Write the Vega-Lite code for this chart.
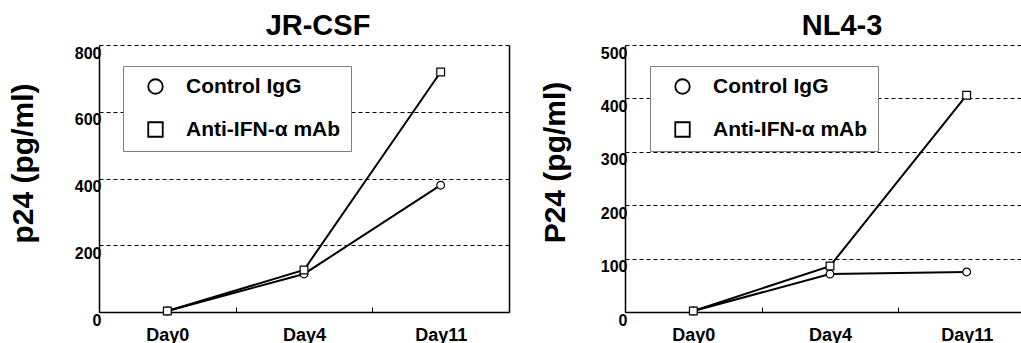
{
  "$schema": "https://vega.github.io/schema/vega-lite/v6.json",
  "padding": {"left": 7, "top": 12, "right": 0, "bottom": 0},
  "background": "white",
  "spacing": 29,
  "config": {
    "font": "Liberation Sans",
    "view": {"stroke": null},
    "axis": {
      "labelFont": "Liberation Sans",
      "labelFontWeight": "bold",
      "labelColor": "black",
      "titleFont": "Liberation Sans",
      "titleColor": "black",
      "titleFontWeight": "bold",
      "domainColor": "black",
      "tickColor": "black"
    },
    "title": {"font": "Liberation Sans", "fontWeight": "bold", "fontSize": 29, "color": "black", "offset": 0},
    "legend": {
      "orient": "none",
      "legendY": 21,
      "padding": 10,
      "strokeColor": "#808080",
      "fillColor": "white",
      "labelFont": "Liberation Sans",
      "labelFontSize": 21,
      "labelFontWeight": "bold",
      "labelColor": "black",
      "rowPadding": 20
    }
  },
  "datasets": {
    "jr": [
      {"day": "Day0", "group": "Control IgG", "p24": 3},
      {"day": "Day4", "group": "Control IgG", "p24": 114},
      {"day": "Day11", "group": "Control IgG", "p24": 380},
      {"day": "Day0", "group": "Anti-IFN-α mAb", "p24": 3},
      {"day": "Day4", "group": "Anti-IFN-α mAb", "p24": 126},
      {"day": "Day11", "group": "Anti-IFN-α mAb", "p24": 719}
    ],
    "nl": [
      {"day": "Day0", "group": "Control IgG", "p24": 2},
      {"day": "Day4", "group": "Control IgG", "p24": 71},
      {"day": "Day11", "group": "Control IgG", "p24": 75},
      {"day": "Day0", "group": "Anti-IFN-α mAb", "p24": 2},
      {"day": "Day4", "group": "Anti-IFN-α mAb", "p24": 86},
      {"day": "Day11", "group": "Anti-IFN-α mAb", "p24": 406}
    ]
  },
  "hconcat": [
    {
      "width": 410,
      "height": 267,
      "title": {"text": "JR-CSF", "dx": 14},
      "data": {"name": "jr"},
      "resolve": {"axis": {"y": "independent"}},
      "layer": [
        {
          "mark": {"type": "line", "color": "black", "strokeWidth": 2},
          "encoding": {
            "x": {"field": "day", "type": "nominal", "sort": ["Day0", "Day4", "Day11"],
              "scale": {"type": "band", "paddingInner": 0, "paddingOuter": 0},
              "axis": {"title": null, "labelAngle": 0, "tickBand": "extent", "tickSize": -5, "labelPadding": 19, "labelFontSize": 18, "domainWidth": 1.5, "grid": false}},
            "y": {"field": "p24", "type": "quantitative", "scale": {"domain": [0, 800]},
              "axis": {"title": "p24 (pg/ml)", "values": [0, 200, 400, 600, 800], "grid": true, "gridDash": [4, 3], "gridColor": "black", "gridWidth": 1, "gridOpacity": 1, "ticks": false, "labelPadding": -2, "labelBaseline": "top", "labelFontSize": 16, "titleFontSize": 30, "titleX": -61, "titleY": 118, "domainWidth": 1.5}},
            "detail": {"field": "group"}
          }
        },
        {
          "mark": {"type": "point", "filled": true, "fill": "white", "stroke": "black", "strokeWidth": 1.2, "size": 60, "opacity": 1},
          "encoding": {
            "x": {"field": "day", "type": "nominal", "sort": ["Day0", "Day4", "Day11"]},
            "y": {"field": "p24", "type": "quantitative",
              "axis": {"orient": "right", "title": null, "labels": false, "ticks": false, "grid": false, "domainWidth": 1.5}},
            "shape": {"field": "group", "type": "nominal",
              "scale": {"domain": ["Control IgG", "Anti-IFN-α mAb"], "range": ["circle", "square"]},
              "legend": {"title": null, "legendX": 24, "symbolSize": 210, "symbolStrokeWidth": 1.8, "symbolOffset": 12, "labelOffset": 20}}
          }
        }
      ]
    },
    {
      "width": 410,
      "height": 267,
      "title": {"text": "NL4-3", "dx": 12},
      "data": {"name": "nl"},
      "resolve": {"axis": {"y": "independent"}},
      "layer": [
        {
          "mark": {"type": "line", "color": "black", "strokeWidth": 2},
          "encoding": {
            "x": {"field": "day", "type": "nominal", "sort": ["Day0", "Day4", "Day11"],
              "scale": {"type": "band", "paddingInner": 0, "paddingOuter": 0},
              "axis": {"title": null, "labelAngle": 0, "tickBand": "extent", "tickSize": -5, "labelPadding": 19, "labelFontSize": 18, "domainWidth": 1.5, "grid": false}},
            "y": {"field": "p24", "type": "quantitative", "scale": {"domain": [0, 500]},
              "axis": {"title": "P24 (pg/ml)", "values": [0, 100, 200, 300, 400, 500], "grid": true, "gridDash": [4, 3], "gridColor": "black", "gridWidth": 1, "gridOpacity": 1, "ticks": false, "labelPadding": -2, "labelBaseline": "top", "labelFontSize": 16, "titleFontSize": 30, "titleX": -55, "titleY": 117, "domainWidth": 1.5}},
            "detail": {"field": "group"}
          }
        },
        {
          "mark": {"type": "point", "filled": true, "fill": "white", "stroke": "black", "strokeWidth": 1.2, "size": 60, "opacity": 1},
          "encoding": {
            "x": {"field": "day", "type": "nominal", "sort": ["Day0", "Day4", "Day11"]},
            "y": {"field": "p24", "type": "quantitative", "axis": null},
            "shape": {"field": "group", "type": "nominal",
              "scale": {"domain": ["Control IgG", "Anti-IFN-α mAb"], "range": ["circle", "square"]},
              "legend": {"title": null, "legendX": 25, "symbolSize": 210, "symbolStrokeWidth": 1.8, "symbolOffset": 12, "labelOffset": 20}}
          }
        }
      ]
    }
  ],
  "resolve": {"scale": {"shape": "independent"}, "legend": {"shape": "independent"}}
}
